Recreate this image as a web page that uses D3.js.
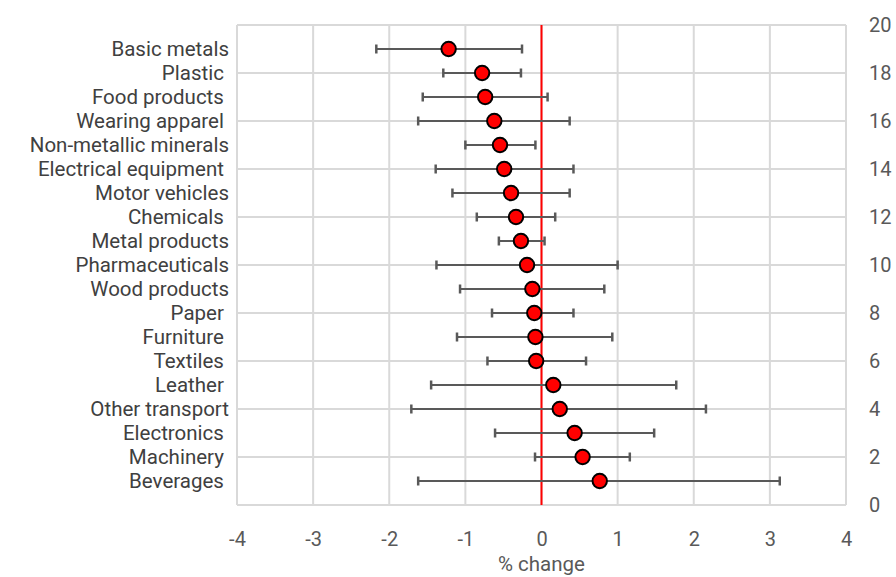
<!DOCTYPE html>
<html><head><meta charset="utf-8">
<script src="https://cdn.jsdelivr.net/npm/d3@7"></script>
<style>body{margin:0;background:#fff}text{font-family:Roboto,sans-serif;white-space:pre}</style>
</head><body><svg id="c" width="896" height="577"></svg>
<script>
const categories = ["Basic metals","Plastic ","Food products ","Wearing apparel ","Non-metallic minerals","Electrical equipment ","Motor vehicles","Chemicals ","Metal products","Pharmaceuticals","Wood products","Paper ","Furniture ","Textiles ","Leather ","Other transport","Electronics ","Machinery ","Beverages "];
const positions = [19,18,17,16,15,14,13,12,11,10,9,8,7,6,5,4,3,2,1];
const estimates = [-1.22,-0.78,-0.74,-0.62,-0.545,-0.49,-0.40,-0.335,-0.27,-0.19,-0.12,-0.095,-0.08,-0.07,0.155,0.24,0.435,0.54,0.765];
const lower = [-2.17,-1.29,-1.56,-1.62,-1.0,-1.39,-1.17,-0.85,-0.56,-1.38,-1.07,-0.65,-1.11,-0.71,-1.45,-1.71,-0.61,-0.085,-1.62];
const upper = [-0.256,-0.27,0.08,0.37,-0.08,0.42,0.37,0.18,0.04,1.0,0.825,0.42,0.93,0.585,1.77,2.16,1.48,1.16,3.13];
const xTicks = [-4,-3,-2,-1,0,1,2,3,4];
const yTicks = [0,2,4,6,8,10,12,14,16,18,20];
const xTitle = "% change";

const svg = d3.select("#c");
const x = d3.scaleLinear().domain([-4,4]).range([237,846]);
const y = d3.scaleLinear().domain([0,20]).range([505,25]);
const grid = "#d9d9d9", tc = "#595959", lc = "#404040";

// gridlines
svg.append("g").selectAll("line").data(xTicks).join("line")
  .attr("x1",d=>x(d)).attr("x2",d=>x(d)).attr("y1",y(0)).attr("y2",y(20))
  .attr("stroke",grid).attr("stroke-width",2);
svg.append("g").selectAll("line").data(yTicks).join("line")
  .attr("x1",x(-4)).attr("x2",x(4)).attr("y1",d=>y(d)).attr("y2",d=>y(d))
  .attr("stroke",grid).attr("stroke-width",2);

// x axis labels
const xa = svg.append("g").attr("transform",`translate(0,${y(0)})`)
  .call(d3.axisBottom(x).tickValues(xTicks).tickSize(0).tickPadding(27).tickFormat(d=>String(d)));
xa.select(".domain").remove();
xa.selectAll("text").attr("fill",tc).style("font-size","20px").style("font-family","Roboto,sans-serif");

// right axis labels
const ya = svg.append("g").attr("transform",`translate(${x(4)},0)`)
  .call(d3.axisRight(y).tickValues(yTicks).tickSize(0).tickPadding(23).tickFormat(d=>String(d)));
ya.select(".domain").remove();
ya.selectAll("text").attr("fill",tc).style("font-size","20px").style("font-family","Roboto,sans-serif");

svg.append("text").attr("x",x(0)).attr("y",571).attr("text-anchor","middle")
  .attr("fill",tc).style("font-size","20.5px").text(xTitle);

// zero line
svg.append("line").attr("x1",x(0)).attr("x2",x(0)).attr("y1",y(0)).attr("y2",y(20))
  .attr("stroke","#ff0000").attr("stroke-width",2);

const data = categories.map((c,i)=>({c,p:positions[i],e:estimates[i],lo:lower[i],hi:upper[i]}));

// error bars
const eb = svg.append("g").attr("stroke","#595959").attr("stroke-width",2);
eb.selectAll(".h").data(data).join("line")
  .attr("x1",d=>x(d.lo)).attr("x2",d=>x(d.hi)).attr("y1",d=>y(d.p)).attr("y2",d=>y(d.p));
eb.selectAll(".l").data(data).join("line")
  .attr("x1",d=>x(d.lo)).attr("x2",d=>x(d.lo)).attr("y1",d=>y(d.p)-4.5).attr("y2",d=>y(d.p)+4.5).attr("stroke-width",2.5);
eb.selectAll(".r").data(data).join("line")
  .attr("x1",d=>x(d.hi)).attr("x2",d=>x(d.hi)).attr("y1",d=>y(d.p)-4.5).attr("y2",d=>y(d.p)+4.5).attr("stroke-width",2.5);

// markers
svg.append("g").selectAll("circle").data(data).join("circle")
  .attr("cx",d=>x(d.e)).attr("cy",d=>y(d.p)).attr("r",7.2)
  .attr("fill","#ff0000").attr("stroke","#000").attr("stroke-width",2);

// category labels
svg.append("g").selectAll("text").data(data).join("text")
  .attr("x",229).attr("y",d=>y(d.p)).attr("dy","0.36em").attr("text-anchor","end")
  .attr("fill",lc).style("font-size","20.5px").text(d=>d.c);
</script></body></html>
